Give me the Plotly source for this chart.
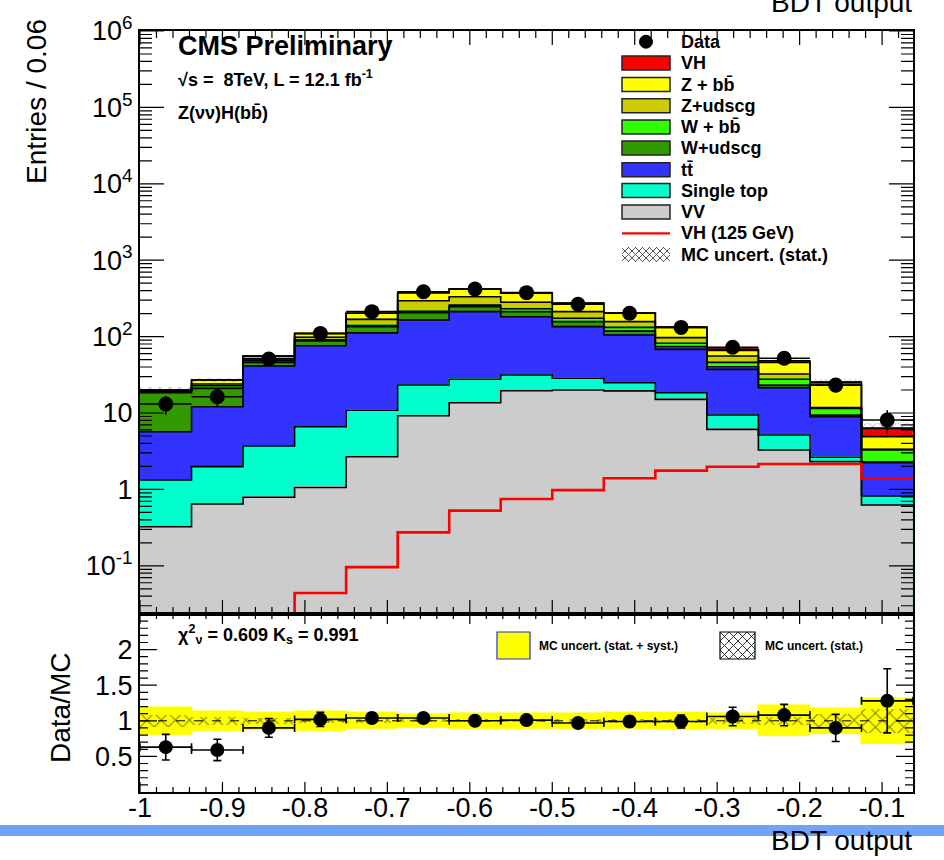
import numpy as np
import plotly.graph_objects as go

# ---------------- binning ----------------
bin_lo = -1.0
bin_w = 0.0625
n_bins = 15
edges = bin_lo + bin_w * np.arange(n_bins + 1)
centers = edges[:-1] + bin_w / 2

# ---------------- background / signal components (per bin) ----------------
vv = [0.325, 0.644, 0.79, 1.06, 2.68, 9.2, 13.6, 19.6, 20.0, 19.5, 15.1, 6.1, 3.28, 2.31, 0.625]
single_top = [1.0, 1.34, 2.91, 5.54, 8.2, 14.1, 14.0, 11.8, 8.5, 5.4, 3.3, 3.3, 1.87, 0.32, 0.195]
ttbar = [4.36, 10.1, 37.5, 69.4, 101, 141.7, 184.4, 150.6, 106.5, 80.1, 49.6, 27.9, 16.25, 6.32, 1.42]
w_udscg = [12.7, 8.9, 4.8, 11.5, 23, 40, 34, 30, 22, 13, 6, 3.1, 1.6, 0.35, 0.06]
w_bb = [0.8, 1.8, 2.5, 3.5, 5, 10, 12, 20, 17, 14, 8, 5.6, 4.6, 2.2, 0.98]
z_udscg = [0.4, 1.2, 3.0, 7.0, 28, 80, 75, 49, 38, 25, 15, 9.7, 4.8, 0.3, 0.07]
z_bb = [0.4, 3.0, 4.0, 12.0, 34, 81, 85, 89, 61, 45, 35, 10.3, 13.6, 11.4, 1.55]
vh = [0.004, 0.008, 0.018, 0.044, 0.096, 0.274, 0.527, 0.75, 0.98, 1.40, 1.76, 1.98, 2.15, 2.15, 1.40]

# ---------------- observed data ----------------
data = [13.1, 16.3, 51, 110, 212, 387, 420, 376, 265, 202, 132, 72.5, 52, 23.2, 8.1]
data_err = [3.6, 4.0, 7.1, 10.5, 14.6, 19.7, 20.5, 19.4, 16.3, 14.2, 11.5, 8.5, 7.2, 4.8, 2.8]

# ---------------- ratio panel ----------------
ratio = [0.63, 0.59, 0.90, 1.02, 1.04, 1.04, 1.00, 1.01, 0.97, 0.99, 0.99, 1.06, 1.08, 0.90, 1.28]
ratio_err = [0.18, 0.15, 0.13, 0.10, 0.07, 0.05, 0.05, 0.05, 0.06, 0.07, 0.09, 0.13, 0.15, 0.19, 0.45]
mc_stat_rel = [0.08, 0.06, 0.04, 0.03, 0.025, 0.02, 0.02, 0.02, 0.025, 0.03, 0.03, 0.04, 0.06, 0.09, 0.17]
mc_syst_rel = [0.20, 0.14, 0.13, 0.14, 0.12, 0.10, 0.11, 0.11, 0.11, 0.12, 0.13, 0.11, 0.22, 0.18, 0.32]

# ---------------- labels ----------------
x_ticks = [-1, -0.9, -0.8, -0.7, -0.6, -0.5, -0.4, -0.3, -0.2, -0.1]
x_ticktext = ["-1", "-0.9", "-0.8", "-0.7", "-0.6", "-0.5", "-0.4", "-0.3", "-0.2", "-0.1"]
y_ticks = [0.1, 1, 10, 1e2, 1e3, 1e4, 1e5, 1e6]
y_ticktext = ["10<sup>-1</sup>", "1", "10", "10<sup>2</sup>", "10<sup>3</sup>",
              "10<sup>4</sup>", "10<sup>5</sup>", "10<sup>6</sup>"]
r_ticks = [0.5, 1, 1.5, 2]
r_ticktext = ["0.5", "1", "1.5", "2"]

# stack order bottom -> top
stack = [
    ("VV", vv, "#cccccc"),
    ("Single top", single_top, "#00ffcc"),
    ("tt\u0304", ttbar, "#3333ff"),
    ("W+udscg", w_udscg, "#339900"),
    ("W + bb\u0304", w_bb, "#33ff00"),
    ("Z+udscg", z_udscg, "#cccc00"),
    ("Z + bb\u0304", z_bb, "#ffff00"),
    ("VH", vh, "#ff0000"),
]

FONT = "Liberation Sans, Arial, Helvetica, sans-serif"
NARROW = "Liberation Sans Narrow, Liberation Sans, Arial, sans-serif"

fig = go.Figure()

# ----- stacked histogram: cumulative tops, largest drawn first -----
tops = np.cumsum([np.array(v, dtype=float) for _, v, _ in stack], axis=0)
for i in reversed(range(len(stack))):
    name, _, col = stack[i]
    fig.add_trace(go.Bar(
        x=centers, y=tops[i], width=bin_w,
        marker=dict(color=col, line=dict(color=col, width=0.8)),
        xaxis="x", yaxis="y", showlegend=False, hoverinfo="skip"))

# black step outline on top of each layer
x_step = np.append(edges[:-1], edges[-1])
for i in range(len(stack)):
    fig.add_trace(go.Scatter(
        x=x_step, y=np.append(tops[i], tops[i][-1]), mode="lines",
        line=dict(color="black", width=1.6, shape="hv"),
        xaxis="x", yaxis="y", showlegend=False, hoverinfo="skip"))

total = tops[-1]
stat_abs = total * np.array(mc_stat_rel)
fig.add_trace(go.Bar(
    x=centers, y=2 * stat_abs, base=total - stat_abs, width=bin_w,
    marker=dict(color="rgba(0,0,0,0)", line=dict(width=0),
                pattern=dict(shape="x", fgcolor="#333333", bgcolor="rgba(0,0,0,0)",
                             size=7, solidity=0.2)),
    xaxis="x", yaxis="y", showlegend=False, hoverinfo="skip"))

# VH (125 GeV) signal line
fig.add_trace(go.Scatter(
    x=x_step, y=np.append(vh, vh[-1]), mode="lines",
    line=dict(color="#ff0000", width=2.6, shape="hv"),
    xaxis="x", yaxis="y", showlegend=False, hoverinfo="skip"))

# data points
fig.add_trace(go.Scatter(
    x=centers, y=data, mode="markers",
    marker=dict(color="black", size=15),
    error_y=dict(type="data", array=data_err, color="black", thickness=1.6, width=0),
    error_x=dict(type="data", array=[bin_w / 2] * n_bins, color="black", thickness=1.6, width=0),
    xaxis="x", yaxis="y", showlegend=False, hoverinfo="skip"))

# ----- ratio panel -----
syst_abs = np.array(mc_syst_rel)
fig.add_trace(go.Bar(
    x=centers, y=2 * syst_abs, base=1 - syst_abs, width=bin_w,
    marker=dict(color="#ffff00", line=dict(color="#ffff00", width=0.5)),
    xaxis="x2", yaxis="y2", showlegend=False, hoverinfo="skip"))
stat_r = np.array(mc_stat_rel)
fig.add_trace(go.Bar(
    x=centers, y=2 * stat_r, base=1 - stat_r, width=bin_w,
    marker=dict(color="rgba(0,0,0,0)", line=dict(width=0),
                pattern=dict(shape="x", fgcolor="black", bgcolor="rgba(0,0,0,0)",
                             size=10, solidity=0.2)),
    xaxis="x2", yaxis="y2", showlegend=False, hoverinfo="skip"))
fig.add_trace(go.Scatter(
    x=centers, y=ratio, mode="markers",
    marker=dict(color="black", size=14),
    error_y=dict(type="data", array=ratio_err, color="black", thickness=1.6, width=4),
    error_x=dict(type="data", array=[bin_w / 2] * n_bins, color="black", thickness=1.6, width=4),
    xaxis="x2", yaxis="y2", showlegend=False, hoverinfo="skip"))


# ----- helpers for placing decorations in pixel terms -----
L, R, T, B, W, H = 140, 31, 31, 68, 944, 860
PW, PH = W - L - R, H - T - B
SPLIT_PX = 614                      # boundary between main and ratio panels
Y_LO, Y_HI = np.log10(0.0234), 6.0  # main panel log range
R_LO, R_HI = 0.0, 2.5               # ratio panel range


def px_x(px):
    return (px - L) / PW


def px_y(py):
    return (H - B - py) / PH


def seg(xa, ya, xb, yb):
    return f"M{px_x(xa):.5f},{px_y(ya):.5f}L{px_x(xb):.5f},{px_y(yb):.5f}"


def hatch_path(x0, y0, x1, y1, step):
    """Cross-hatch ('X') path clipped to a pixel rectangle, in paper units."""
    segs = []
    k = x0 + y0
    while k <= x1 + y1:
        xa, xb = max(x0, k - y1), min(x1, k - y0)
        if xb > xa:
            segs.append(seg(xa, k - xa, xb, k - xb))
        k += step
    k = x0 - y1
    while k <= x1 - y0:
        xa, xb = max(x0, k + y0), min(x1, k + y1)
        if xb > xa:
            segs.append(seg(xa, xa - k, xb, xb - k))
        k += step
    return "".join(segs)


# axis value -> pixel, from the axis ranges used below
def x_to_px(v):
    return L + (v - edges[0]) / (edges[-1] - edges[0]) * PW


def ymain_to_px(v):
    return T + (Y_HI - np.log10(v)) / (Y_HI - Y_LO) * (SPLIT_PX - T)


def yratio_to_px(v):
    return (H - B) - (v - R_LO) / (R_HI - R_LO) * (H - B - SPLIT_PX)


shapes = []
annotations = []

# ----- ROOT-style inside ticks on all four sides of both panels -----
x_minor = [v for v in np.arange(-1.0, edges[-1] + 1e-9, 0.02)]
minor_log = [k * 10.0 ** e for e in range(-2, 6) for k in range(2, 10)]
tick_segs = []
for v in x_minor:
    is_major = any(abs(v - t) < 1e-6 for t in x_ticks)
    p = x_to_px(v)
    lm, lr = (14, 10) if is_major else (7, 5)
    tick_segs += [seg(p, T, p, T + lm), seg(p, SPLIT_PX, p, SPLIT_PX - lm),
                  seg(p, SPLIT_PX, p, SPLIT_PX + lr), seg(p, H - B, p, H - B - lr)]
for v in y_ticks + minor_log:
    if not (Y_LO <= np.log10(v) <= Y_HI):
        continue
    p = ymain_to_px(v)
    ln = 24 if v in y_ticks else 12
    tick_segs += [seg(L, p, L + ln, p), seg(W - R, p, W - R - ln, p)]
for v in np.arange(0.1, 2.45, 0.1):
    p = yratio_to_px(v)
    ln = 17 if any(abs(v - t) < 1e-6 for t in r_ticks) else 8
    tick_segs += [seg(L, p, L + ln, p), seg(W - R, p, W - R - ln, p)]
shapes.append(dict(type="path", xref="paper", yref="paper", path="".join(tick_segs),
                   line=dict(color="black", width=1.2), layer="above"))

# legend of the main panel
legend_rows = [
    ("Data", "marker", None, 41.7),
    ("VH", "box", "#ff0000", 63),
    ("Z + bb\u0304", "box", "#ffff00", 84.5),
    ("Z+udscg", "box", "#cccc00", 105.7),
    ("W + bb\u0304", "box", "#33ff00", 127),
    ("W+udscg", "box", "#339900", 148),
    ("tt\u0304", "box", "#3333ff", 169.7),
    ("Single top", "box", "#00ffcc", 190.5),
    ("VV", "box", "#cccccc", 212),
    ("VH (125 GeV)", "line", "#ff0000", 233.3),
    ("MC uncert. (stat.)", "hatch", None, 254.5),
]
sw_x0, sw_x1, sw_h = 622, 670, 14
for label, kind, col, yc in legend_rows:
    if kind == "box":
        shapes.append(dict(type="rect", xref="paper", yref="paper",
                           x0=px_x(sw_x0), x1=px_x(sw_x1),
                           y0=px_y(yc + sw_h / 2), y1=px_y(yc - sw_h / 2),
                           fillcolor=col, line=dict(color="#222222", width=1.5), layer="above"))
    elif kind == "marker":
        shapes.append(dict(type="circle", xref="paper", yref="paper",
                           x0=px_x(639.5), x1=px_x(652.5), y0=px_y(48.2), y1=px_y(35.2),
                           fillcolor="black", line=dict(color="black", width=1), layer="above"))
    elif kind == "line":
        shapes.append(dict(type="line", xref="paper", yref="paper",
                           x0=px_x(sw_x0), x1=px_x(sw_x1), y0=px_y(yc), y1=px_y(yc),
                           line=dict(color=col, width=2.2), layer="above"))
    elif kind == "hatch":
        shapes.append(dict(type="path", xref="paper", yref="paper",
                           path=hatch_path(sw_x0, yc - 7.5, sw_x1, yc + 7.5, 7),
                           line=dict(color="#444444", width=0.9), layer="above"))
    annotations.append(dict(text="<b>" + label + "</b>", xref="paper", yref="paper",
                            x=px_x(679), y=px_y(yc), xanchor="left", yanchor="middle",
                            showarrow=False, font=dict(family=FONT, size=18, color="black")))

# ratio panel legend
shapes.append(dict(type="rect", xref="paper", yref="paper",
                   x0=px_x(497), x1=px_x(530), y0=px_y(659), y1=px_y(632),
                   fillcolor="#ffff00", line=dict(color="#2233cc", width=1.2), layer="above"))
shapes.append(dict(type="path", xref="paper", yref="paper",
                   path=hatch_path(720, 632, 755, 659, 9),
                   line=dict(color="#222222", width=0.9), layer="above"))
shapes.append(dict(type="rect", xref="paper", yref="paper",
                   x0=px_x(720), x1=px_x(755), y0=px_y(659), y1=px_y(632),
                   fillcolor="rgba(0,0,0,0)", line=dict(color="black", width=1.2), layer="above"))
annotations.append(dict(text="<b>MC uncert. (stat. + syst.)</b>", xref="paper", yref="paper",
                        x=px_x(537), y=px_y(646), xanchor="left", yanchor="middle", showarrow=False,
                        font=dict(family=NARROW, size=12, color="black")))
annotations.append(dict(text="<b>MC uncert. (stat.)</b>", xref="paper", yref="paper",
                        x=px_x(763), y=px_y(646), xanchor="left", yanchor="middle", showarrow=False,
                        font=dict(family=NARROW, size=12, color="black")))

# dashed unity line in the ratio panel
shapes.append(dict(type="line", xref="x2 domain", yref="y2", x0=0, x1=1, y0=1, y1=1,
                   line=dict(color="black", width=1, dash="dash"), layer="above"))

# blue band at the bottom of the page
shapes.append(dict(type="rect", xref="paper", yref="paper",
                   x0=px_x(0), x1=px_x(W), y0=px_y(836), y1=px_y(825),
                   fillcolor="#70a2f7", line=dict(width=0), layer="below"))

# header texts
annotations += [
    dict(text="<b>CMS Preliminary</b>", xref="paper", yref="paper", x=px_x(176), y=px_y(46),
         xanchor="left", yanchor="middle", showarrow=False, font=dict(family=FONT, size=27)),
    dict(text="<b>\u221as =  8TeV, L = 12.1 fb<sup>-1</sup></b>", xref="paper", yref="paper",
         x=px_x(176), y=px_y(78), xanchor="left", yanchor="middle", showarrow=False,
         font=dict(family=FONT, size=18)),
    dict(text="<b>Z(\u03bd\u03bd)H(bb\u0304)</b>", xref="paper", yref="paper",
         x=px_x(176), y=px_y(113), xanchor="left", yanchor="middle", showarrow=False,
         font=dict(family=FONT, size=18)),
    dict(text="<b>\u03c7<sup>2</sup><sub>\u03bd</sub> = 0.609 K<sub>s</sub> = 0.991</b>",
         xref="paper", yref="paper", x=px_x(176), y=px_y(634), xanchor="left", yanchor="middle",
         showarrow=False, font=dict(family=NARROW, size=18)),
    # axis titles
    dict(text="Entries / 0.06", xref="paper", yref="paper", x=px_x(36), y=px_y(102),
         xanchor="center", yanchor="middle", textangle=-90, showarrow=False,
         font=dict(family=FONT, size=28)),
    dict(text="Data/MC", xref="paper", yref="paper", x=px_x(60), y=px_y(708),
         xanchor="center", yanchor="middle", textangle=-90, showarrow=False,
         font=dict(family=FONT, size=28)),
    dict(text="BDT output", xref="paper", yref="paper", x=px_x(914), y=px_y(840),
         xanchor="right", yanchor="middle", showarrow=False, font=dict(family=FONT, size=28)),
    dict(text="BDT output", xref="paper", yref="paper", x=px_x(914), y=px_y(3),
         xanchor="right", yanchor="middle", showarrow=False, font=dict(family=FONT, size=28)),
]

split = (H - B - SPLIT_PX) / PH
tick_font = dict(family=FONT, size=27, color="black")
frame = dict(showline=True, linecolor="black", linewidth=2, mirror=True,
             showgrid=False, zeroline=False, ticks="")

fig.update_layout(
    width=W, height=H, margin=dict(l=L, r=R, t=T, b=B),
    paper_bgcolor="white", plot_bgcolor="white",
    barmode="overlay", bargap=0, showlegend=False,
    font=dict(family=FONT, color="black"),
    xaxis=dict(domain=[0, 1], anchor="y", range=[edges[0], edges[-1]], **frame,
               tickmode="array", tickvals=x_ticks, showticklabels=False),
    yaxis=dict(domain=[split, 1], anchor="x", type="log", range=[Y_LO, Y_HI], **frame,
               tickfont=tick_font, tickmode="array", tickvals=y_ticks, ticktext=y_ticktext),
    xaxis2=dict(domain=[0, 1], anchor="y2", range=[edges[0], edges[-1]], matches="x",
                **frame, tickfont=tick_font, ticklabelstandoff=-9,
                tickmode="array", tickvals=x_ticks, ticktext=x_ticktext),
    yaxis2=dict(domain=[0, split], anchor="x2", range=[R_LO, R_HI], **frame, tickfont=tick_font,
                tickmode="array", tickvals=r_ticks, ticktext=r_ticktext),
    shapes=shapes,
    annotations=annotations,
)

fig.write_html("out.html")
